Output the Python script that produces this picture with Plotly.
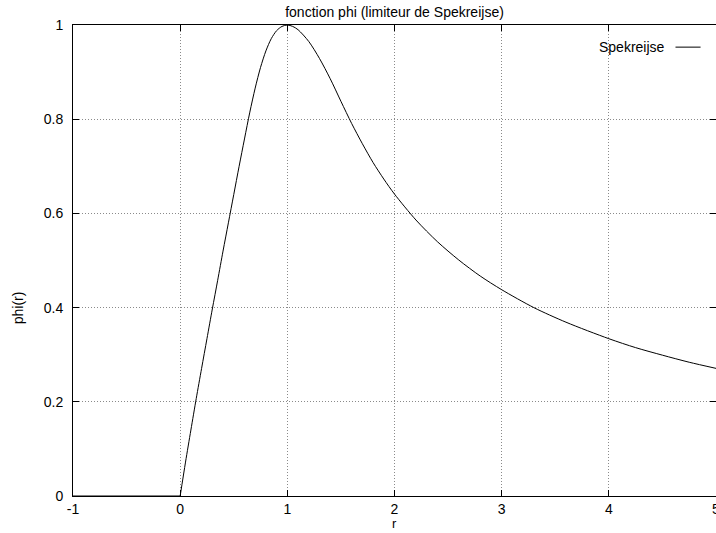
import plotly.graph_objects as go

# values
neg_r = [-1, 0]
neg_phi = [0, 0]

r_vals = [0, 0.05, 0.1, 0.15, 0.2, 0.25, 0.3, 0.35, 0.4, 0.45, 0.5, 0.55, 0.6,
          0.65, 0.7, 0.75, 0.8, 0.85, 0.9, 0.95, 1.0, 1.05, 1.1, 1.2, 1.3, 1.4, 1.5,
          1.6, 1.7, 1.8, 1.9, 2.0, 2.2, 2.4, 2.6, 2.8, 3.0, 3.3, 3.6, 4.0, 4.25,
          4.5, 4.75, 5.0]
phi_vals = [0, 0.072, 0.140, 0.207, 0.271, 0.334, 0.397, 0.458, 0.520, 0.580, 0.640,
            0.700, 0.758, 0.815, 0.866, 0.910, 0.945, 0.971, 0.988, 0.997, 1.0, 0.997,
            0.990, 0.965, 0.929, 0.886, 0.838, 0.791, 0.748, 0.708, 0.673, 0.641,
            0.586, 0.540, 0.501, 0.467, 0.438, 0.400, 0.369, 0.334, 0.315, 0.299,
            0.284, 0.271]

x_ticks = [-1, 0, 1, 2, 3, 4, 5]
y_ticks = [0, 0.2, 0.4, 0.6, 0.8, 1]
y_tick_text = ["0", "0.2", "0.4", "0.6", "0.8", "1"]

title_text = "fonction phi (limiteur de Spekreijse)"
series_name = "Spekreijse"

FONT = "Liberation Sans, Arial, Helvetica, sans-serif"
FS = 14

fig = go.Figure()
fig.add_trace(go.Scatter(x=neg_r, y=neg_phi, mode="lines", name=series_name,
                         line=dict(color="black", width=1),
                         showlegend=False, cliponaxis=False))
fig.add_trace(go.Scatter(x=r_vals, y=phi_vals, mode="lines", name=series_name,
                         line=dict(color="black", width=1, shape="spline", smoothing=0.8),
                         showlegend=False, cliponaxis=False))

axis_common = dict(showline=True, linecolor="black", linewidth=1, mirror="allticks",
                   ticks="inside", ticklen=6, tickcolor="black", tickwidth=1,
                   showgrid=True, gridcolor="#8a8a8a", gridwidth=1, griddash="1px,2px",
                   zeroline=False, automargin=False,
                   tickfont=dict(family=FONT, size=FS, color="black"))

fig.update_xaxes(range=[-1, 5], tickvals=x_ticks, ticktext=[str(v) for v in x_ticks],
                 ticklabelstandoff=0, ticklabeloverflow="allow", **axis_common)
fig.update_yaxes(range=[0, 1], tickvals=y_ticks, ticktext=y_tick_text,
                 ticklabelstandoff=6, ticklabeloverflow="allow", **axis_common)

fig.update_layout(
    width=716, height=533,
    margin=dict(l=73, r=0, t=25, b=37),
    paper_bgcolor="white", plot_bgcolor="white",
    font=dict(family=FONT, size=FS, color="black"),
    title=dict(text=title_text, x=0.5, xref="paper", xanchor="center",
               y=1 - 12 / 533, yref="container", yanchor="middle",
               font=dict(family=FONT, size=FS, color="black")),
    annotations=[
        dict(text="r", xref="paper", yref="paper", x=0.5, y=-0.0786,
             showarrow=False, xanchor="center", yanchor="bottom",
             font=dict(family=FONT, size=13)),
        dict(text="phi(r)", xref="paper", yref="paper", x=-0.086, y=0.40,
             showarrow=False, textangle=-90, xanchor="center", yanchor="middle",
             font=dict(family=FONT, size=FS)),
        dict(text=series_name, xref="paper", yref="paper", x=0.924, y=0.953,
             showarrow=False, xanchor="right", yanchor="middle",
             font=dict(family=FONT, size=FS)),
    ],
    shapes=[
        dict(type="line", xref="paper", yref="paper", x0=0.937, x1=0.976,
             y0=0.953, y1=0.953, line=dict(color="black", width=1)),
    ],
)

fig.write_html("out.html")
